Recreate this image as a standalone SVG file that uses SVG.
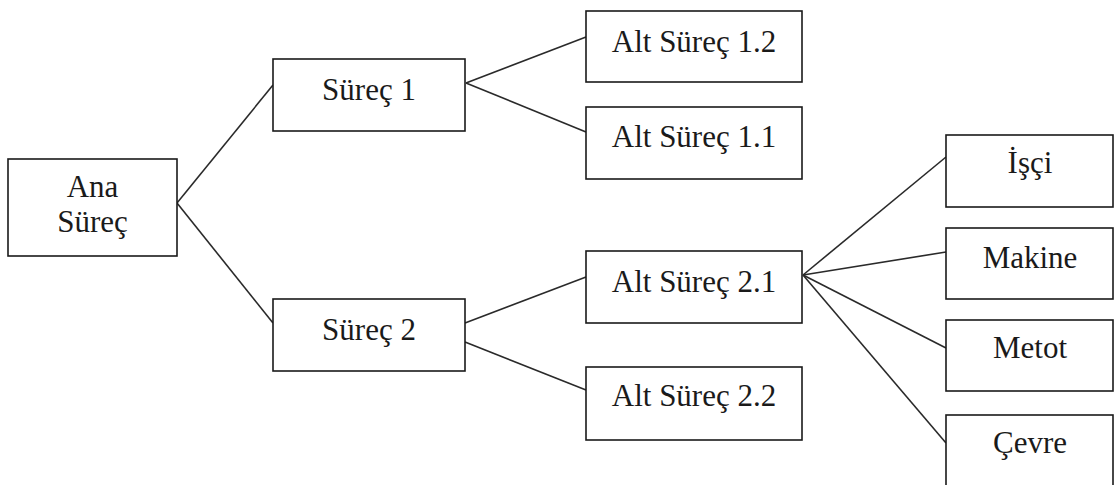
<svg xmlns="http://www.w3.org/2000/svg" width="1114" height="485" viewBox="0 0 1114 485">
  <style>
    .box { fill: #ffffff; stroke: #1a1a1a; stroke-width: 1.6; }
    .lbl { font-family: "Liberation Serif", "Times New Roman", serif; font-size: 31px; fill: #1a1a1a; text-anchor: middle; }
    .link { stroke: #2a2a2a; stroke-width: 1.6; fill: none; }
  </style>
  <rect width="1114" height="485" fill="#ffffff"/>

  <!-- tree connectors -->
  <g id="connectors">
    <line class="link" x1="177" y1="203" x2="273" y2="85"/>
    <line class="link" x1="177" y1="203" x2="273" y2="323"/>
    <line class="link" x1="466" y1="83" x2="586" y2="37"/>
    <line class="link" x1="466" y1="83" x2="586" y2="132"/>
    <line class="link" x1="465" y1="323" x2="586" y2="277"/>
    <line class="link" x1="465" y1="342" x2="586" y2="390"/>
    <line class="link" x1="803" y1="275" x2="946" y2="157"/>
    <line class="link" x1="803" y1="275" x2="946" y2="252"/>
    <line class="link" x1="803" y1="275" x2="946" y2="348"/>
    <line class="link" x1="803" y1="275" x2="946" y2="443"/>
  </g>

  <g id="ana-surec">
    <rect class="box" x="8" y="159" width="169" height="97"/>
    <text class="lbl" x="92.5" y="197">Ana</text>
    <text class="lbl" x="92.5" y="232">Süreç</text>
  </g>

  <g id="surec-1">
    <rect class="box" x="273" y="59" width="192" height="72"/>
    <text class="lbl" x="369" y="100">Süreç 1</text>
  </g>

  <g id="surec-2">
    <rect class="box" x="273" y="299" width="192" height="72"/>
    <text class="lbl" x="369" y="340">Süreç 2</text>
  </g>

  <g id="alt-surec-1-2">
    <rect class="box" x="586" y="11" width="216" height="71"/>
    <text class="lbl" x="694" y="52">Alt Süreç 1.2</text>
  </g>

  <g id="alt-surec-1-1">
    <rect class="box" x="586" y="107" width="216" height="72"/>
    <text class="lbl" x="694" y="147">Alt Süreç 1.1</text>
  </g>

  <g id="alt-surec-2-1">
    <rect class="box" x="586" y="251" width="216" height="72"/>
    <text class="lbl" x="694" y="292">Alt Süreç 2.1</text>
  </g>

  <g id="alt-surec-2-2">
    <rect class="box" x="586" y="367" width="216" height="73"/>
    <text class="lbl" x="694" y="406">Alt Süreç 2.2</text>
  </g>

  <g id="isci">
    <rect class="box" x="946" y="135" width="167" height="72"/>
    <text class="lbl" x="1030" y="173">İşçi</text>
  </g>

  <g id="makine">
    <rect class="box" x="946" y="228" width="167" height="71"/>
    <text class="lbl" x="1030" y="268">Makine</text>
  </g>

  <g id="metot">
    <rect class="box" x="946" y="320" width="167" height="71"/>
    <text class="lbl" x="1030" y="358">Metot</text>
  </g>

  <g id="cevre">
    <rect class="box" x="946" y="415" width="167" height="80"/>
    <text class="lbl" x="1030" y="453">Çevre</text>
  </g>
</svg>
